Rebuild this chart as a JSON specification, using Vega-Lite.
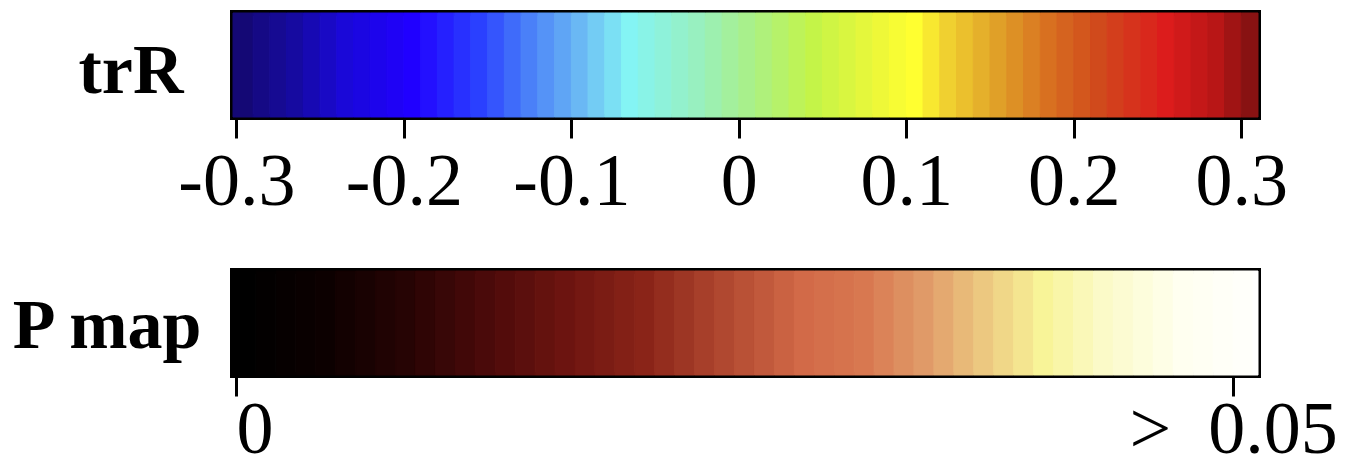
{
  "$schema": "https://vega.github.io/schema/vega-lite/v6.json",
  "background": "white",
  "padding": {"left": 5, "top": 9, "right": 10, "bottom": 0},
  "config": {
    "view": {"stroke": "#000", "strokeWidth": 6},
    "axis": {"domain": false, "grid": false, "title": null},
    "axisX": {"tickColor": "#000", "tickWidth": 3, "tickSize": 21, "labelFont": "Liberation Serif", "labelFontSize": 74, "labelColor": "#000", "labelBaseline": "alphabetic", "labelFlush": false, "labelOverlap": false, "labelLimit": 500},
    "axisY": {"ticks": false, "labelFont": "Liberation Serif", "labelFontSize": 70, "labelFontWeight": "bold", "labelColor": "#000", "labelAngle": 0, "labelAlign": "right", "labelBaseline": "alphabetic", "labelLimit": 400},
    "scale": {"bandPaddingInner": 0, "bandPaddingOuter": 0}
  },
  "datasets": {
    "trR": [
      {"a": -0.302, "b": -0.29}, {"a": -0.29, "b": -0.28}, {"a": -0.28, "b": -0.27}, {"a": -0.27, "b": -0.26}, {"a": -0.26, "b": -0.25},
      {"a": -0.25, "b": -0.24}, {"a": -0.24, "b": -0.23}, {"a": -0.23, "b": -0.22}, {"a": -0.22, "b": -0.21}, {"a": -0.21, "b": -0.2},
      {"a": -0.2, "b": -0.19}, {"a": -0.19, "b": -0.18}, {"a": -0.18, "b": -0.17}, {"a": -0.17, "b": -0.16}, {"a": -0.16, "b": -0.15},
      {"a": -0.15, "b": -0.14}, {"a": -0.14, "b": -0.13}, {"a": -0.13, "b": -0.12}, {"a": -0.12, "b": -0.11}, {"a": -0.11, "b": -0.1},
      {"a": -0.1, "b": -0.09}, {"a": -0.09, "b": -0.08}, {"a": -0.08, "b": -0.07}, {"a": -0.07, "b": -0.06}, {"a": -0.06, "b": -0.05},
      {"a": -0.05, "b": -0.04}, {"a": -0.04, "b": -0.03}, {"a": -0.03, "b": -0.02}, {"a": -0.02, "b": -0.01}, {"a": -0.01, "b": 0},
      {"a": 0, "b": 0.01}, {"a": 0.01, "b": 0.02}, {"a": 0.02, "b": 0.03}, {"a": 0.03, "b": 0.04}, {"a": 0.04, "b": 0.05},
      {"a": 0.05, "b": 0.06}, {"a": 0.06, "b": 0.07}, {"a": 0.07, "b": 0.08}, {"a": 0.08, "b": 0.09}, {"a": 0.09, "b": 0.1},
      {"a": 0.1, "b": 0.11}, {"a": 0.11, "b": 0.12}, {"a": 0.12, "b": 0.13}, {"a": 0.13, "b": 0.14}, {"a": 0.14, "b": 0.15},
      {"a": 0.15, "b": 0.16}, {"a": 0.16, "b": 0.17}, {"a": 0.17, "b": 0.18}, {"a": 0.18, "b": 0.19}, {"a": 0.19, "b": 0.2},
      {"a": 0.2, "b": 0.21}, {"a": 0.21, "b": 0.22}, {"a": 0.22, "b": 0.23}, {"a": 0.23, "b": 0.24}, {"a": 0.24, "b": 0.25},
      {"a": 0.25, "b": 0.26}, {"a": 0.26, "b": 0.27}, {"a": 0.27, "b": 0.28}, {"a": 0.28, "b": 0.29}, {"a": 0.29, "b": 0.3},
      {"a": 0.3, "b": 0.31}
    ],
    "pmap": [
      {"a": -0.00015, "b": 0.001}, {"a": 0.001, "b": 0.002}, {"a": 0.002, "b": 0.003}, {"a": 0.003, "b": 0.004}, {"a": 0.004, "b": 0.005},
      {"a": 0.005, "b": 0.006}, {"a": 0.006, "b": 0.007}, {"a": 0.007, "b": 0.008}, {"a": 0.008, "b": 0.009}, {"a": 0.009, "b": 0.01},
      {"a": 0.01, "b": 0.011}, {"a": 0.011, "b": 0.012}, {"a": 0.012, "b": 0.013}, {"a": 0.013, "b": 0.014}, {"a": 0.014, "b": 0.015},
      {"a": 0.015, "b": 0.016}, {"a": 0.016, "b": 0.017}, {"a": 0.017, "b": 0.018}, {"a": 0.018, "b": 0.019}, {"a": 0.019, "b": 0.02},
      {"a": 0.02, "b": 0.021}, {"a": 0.021, "b": 0.022}, {"a": 0.022, "b": 0.023}, {"a": 0.023, "b": 0.024}, {"a": 0.024, "b": 0.025},
      {"a": 0.025, "b": 0.026}, {"a": 0.026, "b": 0.027}, {"a": 0.027, "b": 0.028}, {"a": 0.028, "b": 0.029}, {"a": 0.029, "b": 0.03},
      {"a": 0.03, "b": 0.031}, {"a": 0.031, "b": 0.032}, {"a": 0.032, "b": 0.033}, {"a": 0.033, "b": 0.034}, {"a": 0.034, "b": 0.035},
      {"a": 0.035, "b": 0.036}, {"a": 0.036, "b": 0.037}, {"a": 0.037, "b": 0.038}, {"a": 0.038, "b": 0.039}, {"a": 0.039, "b": 0.04},
      {"a": 0.04, "b": 0.041}, {"a": 0.041, "b": 0.042}, {"a": 0.042, "b": 0.043}, {"a": 0.043, "b": 0.044}, {"a": 0.044, "b": 0.045},
      {"a": 0.045, "b": 0.046}, {"a": 0.046, "b": 0.047}, {"a": 0.047, "b": 0.048}, {"a": 0.048, "b": 0.049}, {"a": 0.049, "b": 0.05},
      {"a": 0.05, "b": 0.051}, {"a": 0.051, "b": 0.05125}
    ]
  },
  "vconcat": [
    {
      "width": 1025,
      "height": 104,
      "data": {"name": "trR"},
      "mark": {"type": "rect", "strokeWidth": 1},
      "encoding": {
        "y": {"datum": "trR", "type": "nominal", "axis": {"labelPadding": 50, "labelOffset": 28}},
        "x": {
          "field": "a", "type": "quantitative",
          "scale": {"domain": [-0.302, 0.31], "nice": false, "zero": false},
          "axis": {"values": [-0.3, -0.2, -0.1, 0, 0.1, 0.2, 0.3], "labelPadding": 66, "labelExpr": "datum.value == 0 ? '0' : (datum.value < 0 ? '-' : '') + format(abs(datum.value), '.1f')"}
        },
        "x2": {"field": "b"},
        "color": {
          "field": "a", "type": "quantitative", "legend": null,
          "scale": {
            "interpolate": "rgb",
            "domain": [-0.31, -0.27, -0.24, -0.2, -0.16, -0.13, -0.1, -0.07, -0.03, 0, 0.04, 0.08, 0.1, 0.12, 0.15, 0.18, 0.21, 0.25, 0.28, 0.31],
            "range": ["#14086a", "#160aa0", "#1a08d8", "#2000ff", "#2a40ff", "#4a80f8", "#6ab8f4", "#84f4f4", "#98f0c0", "#a8f08c", "#c4f448", "#eef838", "#ffff30", "#f0d030", "#e0a028", "#d87020", "#d04a1c", "#dc1c1c", "#b81616", "#701010"]
          }
        },
        "stroke": {
          "field": "a", "type": "quantitative", "legend": null,
          "scale": {
            "interpolate": "rgb",
            "domain": [-0.31, -0.27, -0.24, -0.2, -0.16, -0.13, -0.1, -0.07, -0.03, 0, 0.04, 0.08, 0.1, 0.12, 0.15, 0.18, 0.21, 0.25, 0.28, 0.31],
            "range": ["#14086a", "#160aa0", "#1a08d8", "#2000ff", "#2a40ff", "#4a80f8", "#6ab8f4", "#84f4f4", "#98f0c0", "#a8f08c", "#c4f448", "#eef838", "#ffff30", "#f0d030", "#e0a028", "#d87020", "#d04a1c", "#dc1c1c", "#b81616", "#701010"]
          }
        }
      }
    },
    {
      "width": 1025,
      "height": 104,
      "data": {"name": "pmap"},
      "mark": {"type": "rect", "strokeWidth": 1},
      "encoding": {
        "y": {"datum": "P map", "type": "nominal", "axis": {"labelPadding": 32, "labelOffset": 25}},
        "x": {
          "field": "a", "type": "quantitative",
          "scale": {"domain": [-0.00015, 0.05125], "nice": false, "zero": false},
          "axis": {"values": [0, 0.05], "labelPadding": 56, "labelExpr": "datum.value == 0 ? '0' : '>\u00a0\u00a00.05'", "labelAlign": {"condition": {"test": "datum.value == 0", "value": "left"}, "value": "center"}}
        },
        "x2": {"field": "b"},
        "color": {
          "field": "a", "type": "quantitative", "legend": null,
          "scale": {
            "interpolate": "rgb",
            "domain": [0, 0.004, 0.008, 0.012, 0.016, 0.02, 0.024, 0.028, 0.031, 0.034, 0.037, 0.04, 0.043, 0.047, 0.0513],
            "range": ["#000000", "#0c0000", "#260404", "#4a0a0a", "#6c1410", "#8a2418", "#b04830", "#d26a48", "#d87850", "#e09a68", "#ecc880", "#f8f498", "#fbfac8", "#fffff0", "#ffffff"]
          }
        },
        "stroke": {
          "field": "a", "type": "quantitative", "legend": null,
          "scale": {
            "interpolate": "rgb",
            "domain": [0, 0.004, 0.008, 0.012, 0.016, 0.02, 0.024, 0.028, 0.031, 0.034, 0.037, 0.04, 0.043, 0.047, 0.0513],
            "range": ["#000000", "#0c0000", "#260404", "#4a0a0a", "#6c1410", "#8a2418", "#b04830", "#d26a48", "#d87850", "#e09a68", "#ecc880", "#f8f498", "#fbfac8", "#fffff0", "#ffffff"]
          }
        }
      }
    }
  ],
  "resolve": {"scale": {"color": "independent", "stroke": "independent"}},
  "bounds": "flush",
  "spacing": 154
}
